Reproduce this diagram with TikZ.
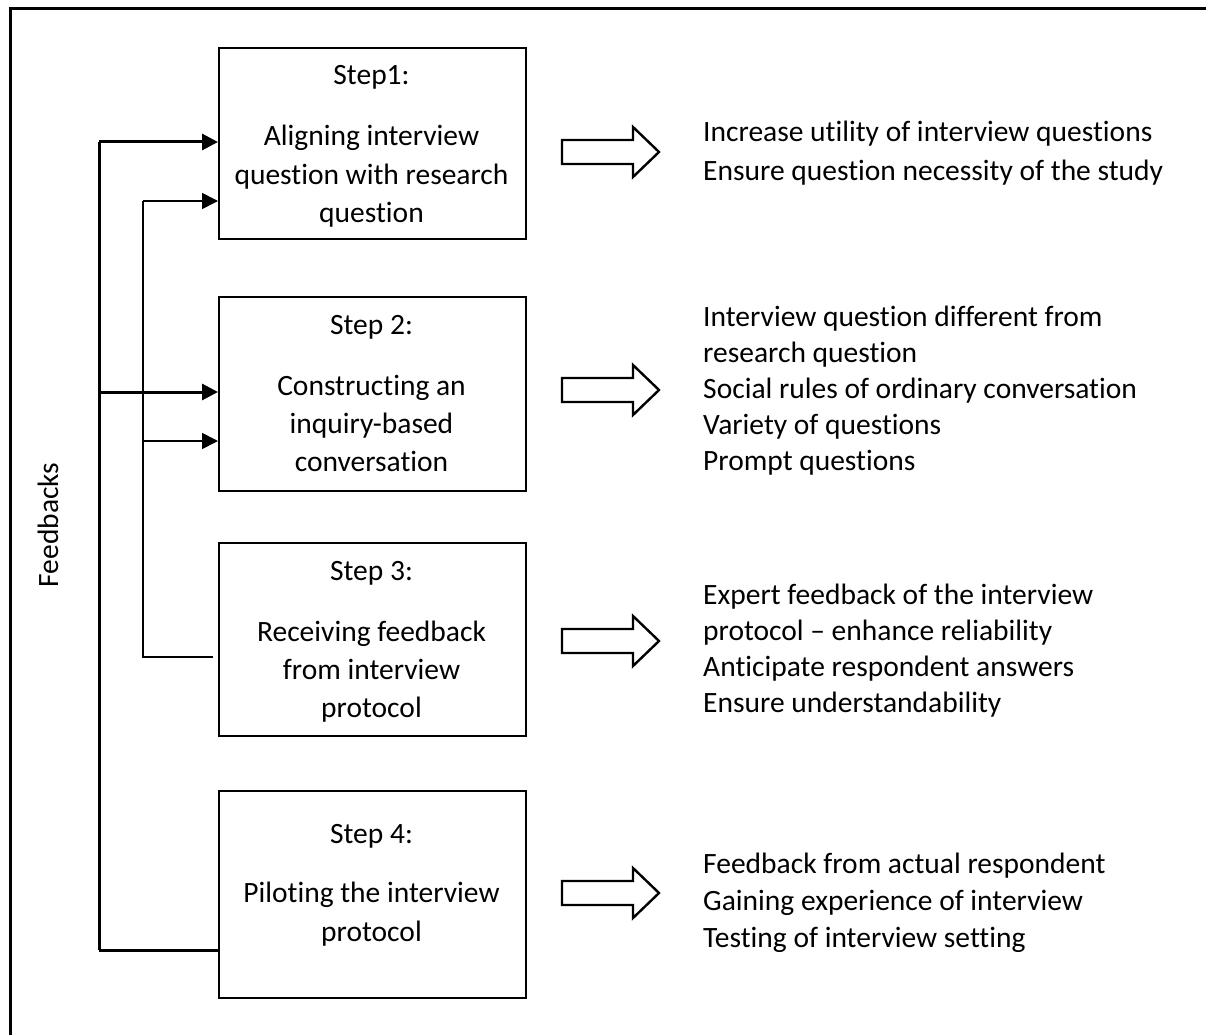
\documentclass[tikz,border=0pt]{standalone}
\usepackage{fontspec}
\setmainfont{Carlito}[Ligatures=CommonOff]
\usetikzlibrary{arrows.meta}
\begin{document}
\begin{tikzpicture}[x=1pt,y=-1pt,
  stepbox/.style={draw,line width=2.4pt,minimum width=307pt,minimum height=#1,anchor=north west,inner sep=0pt},
  txt/.style={font=\fontsize{29.5}{38}\selectfont,inner sep=0pt,anchor=base},
  rtxt/.style={font=\fontsize{29.5}{38}\selectfont,inner sep=0pt,anchor=base west},
  thickline/.style={line width=3pt},
  thinline/.style={line width=1.7pt},
  tip/.style={-{Triangle[length=16pt,width=16pt]}},
  blockarrow/.style={draw,line width=2.4pt,fill=white,line join=miter}
]
\useasboundingbox (0,0) rectangle (1206,1035);
% outer frame (cut at right and bottom)
\draw[line width=3pt] (10,1035) -- (10,9) -- (1206,9);

% boxes
\node[stepbox=191pt] (b1) at (218,47) {};
\node[stepbox=194pt] (b2) at (218,296) {};
\node[stepbox=193pt] (b3) at (218,542) {};
\node[stepbox=207pt] (b4) at (218,790) {};

% box texts
\node[txt] (s1) at (371.5,85) {Step1:};
\node[txt] (s1a) at (371.5,146) {Aligning interview};
\node[txt] (s1b) at (371.5,184) {question with research};
\node[txt] (s1c) at (371.5,222) {question};

\node[txt] (s2) at (371.5,334) {Step 2:};
\node[txt] (s2a) at (371.5,395) {Constructing an};
\node[txt] (s2b) at (371.5,433) {inquiry-based};
\node[txt] (s2c) at (371.5,471) {conversation};

\node[txt] (s3) at (371.5,580) {Step 3:};
\node[txt] (s3a) at (371.5,641) {Receiving feedback};
\node[txt] (s3b) at (371.5,679) {from interview};
\node[txt] (s3c) at (371.5,717) {protocol};

\node[txt] (s4) at (371.5,843) {Step 4:};
\node[txt] (s4a) at (371.5,902) {Piloting the interview};
\node[txt] (s4b) at (371.5,941) {protocol};

% block arrows
\foreach \c/\n in {152/a1,390/a2,641/a3,893/a4}{
  \draw[blockarrow] (562,\c-12) -- (633,\c-12) -- (633,\c-25) -- (659,\c) -- (633,\c+25) -- (633,\c+12) -- (562,\c+12) -- cycle;
}

% right texts
\node[rtxt] (r1a) at (703,142) {Increase utility of interview questions};
\node[rtxt] (r1b) at (703,180) {Ensure question necessity of the study};

\node[rtxt] (r2a) at (703,326) {Interview question different from};
\node[rtxt] (r2b) at (703,362) {research question};
\node[rtxt] (r2c) at (703,398) {Social rules of ordinary conversation};
\node[rtxt] (r2d) at (703,434) {Variety of questions};
\node[rtxt] (r2e) at (703,470) {Prompt questions};

\node[rtxt] (r3a) at (703,604) {Expert feedback of the interview};
\node[rtxt] (r3b) at (703,640) {protocol – enhance reliability};
\node[rtxt] (r3c) at (703,676) {Anticipate respondent answers};
\node[rtxt] (r3d) at (703,712) {Ensure understandability};

\node[rtxt] (r4a) at (703,873) {Feedback from actual respondent};
\node[rtxt] (r4b) at (703,910) {Gaining experience of interview};
\node[rtxt] (r4c) at (703,947) {Testing of interview setting};

% feedbacks label
\node[font=\fontsize{29.5}{38}\selectfont,rotate=90,inner sep=0pt] (fb) at (48,525) {Feedbacks};

% connectors
\coordinate (T1) at (99,142);
\coordinate (T2) at (99,392);
\coordinate (T4) at (99,950);
\coordinate (N1) at (143,201);
\coordinate (N2) at (143,441);
\coordinate (N3) at (143,657);
\coordinate (N3e) at (213,657);

\draw[thickline] (T4) -- (T1);
\draw[thickline,tip] (T1) -- (b1.west |- T1);
\draw[thickline,tip] (T2) -- (b2.west |- T2);
\draw[thickline] (T4) -- (b4.west |- T4);

\draw[thinline] (N1) -- (N3) -- (N3e);
\draw[thinline,tip] (N1) -- (b1.west |- N1);
\draw[thinline,tip] (N2) -- (b2.west |- N2);
\end{tikzpicture}
\end{document}
